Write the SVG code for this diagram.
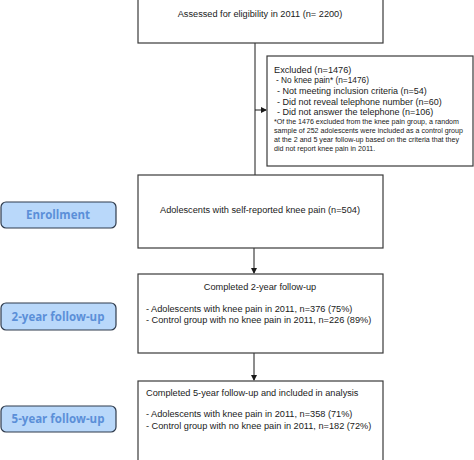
<svg xmlns="http://www.w3.org/2000/svg" width="474" height="460" viewBox="0 0 474 460">
<style>
.box{fill:#fff;stroke:#3a3a3a;stroke-width:1.2}
.t{font-family:"Liberation Sans",Arial,sans-serif;fill:#1a1a1a;font-size:9.2px}
.m{font-family:"Liberation Sans",Arial,sans-serif;fill:#1a1a1a;font-size:9px}
.s{font-family:"Liberation Sans",Arial,sans-serif;fill:#1a1a1a;font-size:8.3px}
.f{font-family:"Liberation Sans",Arial,sans-serif;fill:#1a1a1a;font-size:7.1px}
.pill{fill:#b9d8fa;stroke:#2f3b4c;stroke-width:1.2}
.pt{font-family:"Open Sans","Noto Sans",sans-serif;font-weight:bold;fill:#5b8fd8;font-size:11.5px;text-anchor:middle}
.c{stroke:#1a1a1a;stroke-width:1;fill:none}
</style>
<defs>
<marker id="ah" markerWidth="6" markerHeight="6" refX="5" refY="3" orient="auto" markerUnits="userSpaceOnUse">
<path d="M0,0 L6,3 L0,6 z" fill="#1a1a1a"/>
</marker>
</defs>
<rect width="474" height="460" fill="#fff"/>
<g id="connectors">
<line class="c" x1="255" y1="43" x2="255" y2="175"/>
<line class="c" x1="255" y1="110" x2="266" y2="110" marker-end="url(#ah)"/>
<line class="c" x1="254" y1="248" x2="254" y2="273" marker-end="url(#ah)"/>
<line class="c" x1="254" y1="353" x2="254" y2="380" marker-end="url(#ah)"/>
</g>
<g id="assessed">
<rect class="box" x="138" y="-1" width="245" height="44"/>
<text class="t" x="260" y="17" text-anchor="middle">Assessed for eligibility in 2011 (n= 2200)</text>
</g>
<g id="excluded">
<rect class="box" x="267" y="56" width="206" height="110"/>
<text class="t" x="274" y="73">Excluded (n=1476)</text>
<text class="s" x="276" y="83">- No knee pain* (n=1476)</text>
<text class="m" x="277" y="94">- Not meeting inclusion criteria (n=54)</text>
<text class="m" x="277" y="104.5">- Did not reveal telephone number (n=60)</text>
<text class="m" x="277" y="115">- Did not answer the telephone (n=106)</text>
<text class="f" x="274" y="124">*Of the 1476 excluded from the knee pain group, a random</text>
<text class="f" x="274" y="133">sample of 252 adolescents were included as a control group</text>
<text class="f" x="274" y="141.5">at the 2 and 5 year follow-up based on the criteria that they</text>
<text class="f" x="274" y="150.5">did not report knee pain in 2011.</text>
</g>
<g id="enrolled">
<rect class="box" x="138" y="175" width="245" height="73"/>
<text class="t" x="260" y="213" text-anchor="middle">Adolescents with self-reported knee pain (n=504)</text>
</g>
<g id="followup2">
<rect class="box" x="138" y="274" width="245" height="79"/>
<text class="t" x="260" y="290" text-anchor="middle">Completed 2-year follow-up</text>
<text class="t" x="146" y="312">- Adolescents with knee pain in 2011, n=376 (75%)</text>
<text class="t" x="146" y="323">- Control group with no knee pain in 2011, n=226 (89%)</text>
</g>
<g id="followup5">
<rect class="box" x="138" y="381" width="245" height="85"/>
<text class="t" x="146" y="396">Completed 5-year follow-up and included in analysis</text>
<text class="t" x="146" y="417">- Adolescents with knee pain in 2011, n=358 (71%)</text>
<text class="t" x="146" y="429">- Control group with no knee pain in 2011, n=182 (72%)</text>
</g>
<g id="label-enrollment">
<rect class="pill" x="1" y="202" width="115" height="26" rx="5"/>
<text class="pt" x="58" y="219">Enrollment</text>
</g>
<g id="label-2year">
<rect class="pill" x="1" y="303" width="115" height="27" rx="5"/>
<text class="pt" x="58" y="321">2-year follow-up</text>
</g>
<g id="label-5year">
<rect class="pill" x="1" y="406" width="115" height="26" rx="5"/>
<text class="pt" x="58" y="423">5-year follow-up</text>
</g>
</svg>
